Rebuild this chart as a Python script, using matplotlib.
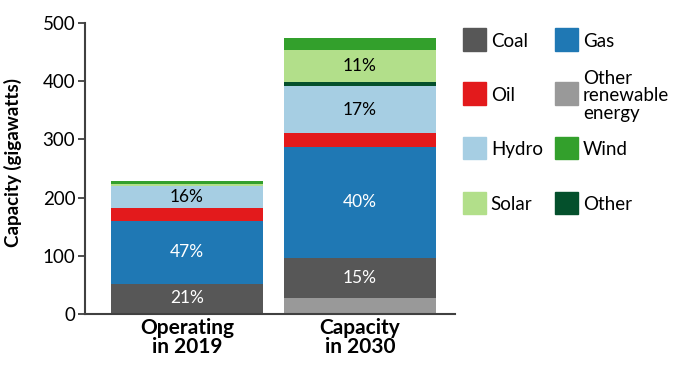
import numpy as np
import matplotlib
matplotlib.use('Agg')
import matplotlib.pyplot as plt
from matplotlib.patches import Rectangle

plt.rcParams['font.family'] = ['Lato', 'DejaVu Sans']

# Data (gigawatts), stacked bottom to top
bars = ['Operating\nin 2019', 'Capacity\nin 2030']
other_renewable = [2, 27]
coal = [50, 69]
gas = [108, 191]
oil = [22, 24]
hydro = [37, 80]
other = [1.5, 8]
solar = [3.5, 55]
wind = [5, 20]

# percentage labels shown inside segments
coal_pct = ['21%', '15%']
gas_pct = ['47%', '40%']
hydro_pct = ['16%', '17%']
solar_pct = ['', '11%']

layers = [
    ('Other\nrenewable\nenergy', other_renewable, '#999999'),
    ('Coal', coal, '#575757'),
    ('Gas', gas, '#1f78b4'),
    ('Oil', oil, '#e31a1c'),
    ('Hydro', hydro, '#a6cee3'),
    ('Other', other, '#04502c'),
    ('Solar', solar, '#b2df8a'),
    ('Wind', wind, '#33a02c'),
]
labels = {'Coal': (coal_pct, 'white'), 'Gas': (gas_pct, 'white'),
          'Hydro': (hydro_pct, 'black'), 'Solar': (solar_pct, 'black')}

fig = plt.figure(figsize=(6.8, 3.67), dpi=100)
ax = fig.add_axes([0.125, 0.1444, 0.544, 0.7936])

x = np.arange(len(bars))
bottom = np.zeros(len(bars))
for name, vals, col in layers:
    vals = np.array(vals, dtype=float)
    ax.bar(x, vals, width=0.879, bottom=bottom, color=col, edgecolor='none')
    if name in labels:
        txt, tc = labels[name]
        for i in range(len(bars)):
            if txt[i]:
                ax.text(x[i], bottom[i] + vals[i] / 2, txt[i], ha='center',
                        va='center', color=tc, fontsize=12.5)
    bottom += vals

ax.set_xlim(-0.59, 1.549)
ax.set_ylim(0, 500)
ax.set_yticks([0, 100, 200, 300, 400, 500])
ax.set_xticks(x)
ax.set_xticklabels(bars, fontsize=15, fontweight='bold', linespacing=0.95)
ax.tick_params(axis='x', length=0, pad=3)
ax.tick_params(axis='y', labelsize=13.5, length=5, width=1.3, color='#404040', pad=2)
for s in ['top', 'right']:
    ax.spines[s].set_visible(False)
for s in ['left', 'bottom']:
    ax.spines[s].set_color('#404040')
    ax.spines[s].set_linewidth(1.5)
ax.set_ylabel('Capacity (gigawatts)', fontsize=13.5, fontweight='bold')
ax.yaxis.set_label_coords(-0.17, 0.52)

# Legend drawn by hand in two columns
legend_cols = [['Coal', 'Oil', 'Hydro', 'Solar'],
               ['Gas', 'Other\nrenewable\nenergy', 'Wind', 'Other']]
colors = {n: c for n, v, c in layers}
W, H = 680, 367
col_x = [463.3, 555.3]
row_y = [39.5, 93.7, 147.8, 202.8]
size = 22.5
for ci, names in enumerate(legend_cols):
    for ri, n in enumerate(names):
        cx, cy = col_x[ci], row_y[ri]
        fig.patches.append(Rectangle((cx / W, (H - cy - size / 2) / H), size / W, size / H,
                                     transform=fig.transFigure, color=colors[n]))
        fig.text((cx + size + 5) / W, (H - cy - 2) / H, n, ha='left', va='center',
                 fontsize=13.5, linespacing=1.05)

fig.savefig('out.png', dpi=100)
